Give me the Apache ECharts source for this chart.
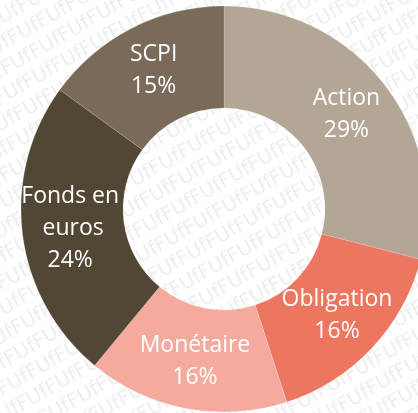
<!DOCTYPE html>
<html>
<head>
<meta charset="utf-8">
<script src="https://cdn.jsdelivr.net/npm/echarts@6/dist/echarts.min.js"></script>
<style>
  html, body { margin: 0; padding: 0; background: #fff; }
  #main { width: 418px; height: 413px; }
</style>
</head>
<body>
<div id="main"></div>
<script>
    var myChart = echarts.init(document.getElementById('main'));

    // données
    var categories = ['Action', 'Obligation', 'Monétaire', 'Fonds en euros', 'SCPI'];
    var values = [29, 16, 16, 24, 15];
    var colors = ['#b4a697', '#ed7660', '#f4ab9e', '#524634', '#7a6a5a'];

    // filigrane "UfF" en fond
    var wmRows = [];
    var line = '';
    for (var k = 0; k < 40; k++) { line += 'UfF'; }
    for (var r = -14; r <= 14; r++) {
        wmRows.push({
            type: 'text',
            x: -420 + (r % 3) * 12,
            y: r * 23,
            style: {
                text: line,
                fill: '#eeeeee',
                font: '20px "DejaVu Sans"'
            }
        });
    }

    var pieData = categories.map(function (c, i) {
        var item = { name: c, value: values[i] };
        if (c === 'Fonds en euros') {
            item.label = { width: 100, overflow: 'break' };
        }
        return item;
    });

    var option = {
        animation: false,
        backgroundColor: '#fff',
        color: colors,
        graphic: [{
            type: 'group',
            x: 209,
            y: 206,
            rotation: 30 * Math.PI / 180,
            z: -10,
            silent: true,
            children: wmRows
        }],
        series: [{
            type: 'pie',
            center: [224, 209],
            radius: [101, 203],
            startAngle: 90,
            clockwise: true,
            z: 5,
            itemStyle: {
                borderColor: 'rgba(255,255,255,0.25)',
                borderWidth: 0.6
            },
            label: {
                show: true,
                position: 'inside',
                color: '#fff',
                fontFamily: 'Open Sans',
                fontSize: 23,
                lineHeight: 32,
                align: 'center',
                formatter: function (p) {
                    return p.name + '\n' + p.value + '%';
                }
            },
            labelLine: { show: false },
            emphasis: { disabled: true },
            data: pieData
        }]
    };

    myChart.setOption(option);
</script>
</body>
</html>
